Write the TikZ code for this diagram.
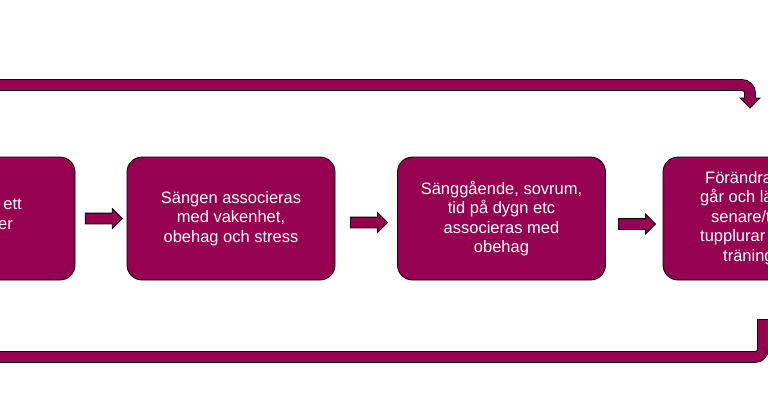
\documentclass[tikz,border=0pt]{standalone}
\usepackage{fontspec}
\setmainfont{Liberation Sans}
\usetikzlibrary{shapes.arrows,calc}
\definecolor{raspberry}{RGB}{150, 0, 80}

\begin{document}
\begin{tikzpicture}[x=1pt, y=-1pt,
        stage/.style={rectangle, rounded corners=15pt, draw=black, line width=0.8pt, fill=raspberry,
                      minimum width=208pt, minimum height=123pt, text=white, align=center,
                      font=\fontsize{16.5}{19.5}\selectfont},
        stagetext/.style={text=white, inner sep=0pt, font=\fontsize{16.5}{19.5}\selectfont},
        fatarrow/.style={single arrow, draw=black, line width=0.8pt, fill=raspberry, inner xsep=0pt,
                         inner ysep=5pt, minimum height=37pt, minimum width=19pt, single arrow head extend=4.5pt},
        loopedge/.style={line width=11.6pt, black, rounded corners=8pt},
        loopbody/.style={line width=10pt, raspberry, rounded corners=8pt},
        loophead/.style={draw=black, line width=0.8pt, fill=raspberry}]
            \clip                                                     (0.00, 0.00) rectangle (768.00, 416.00);
            \fill[white]                                              (0.00, 0.00) rectangle (768.00, 416.00);
            \node[stage] (s1) at (-29.00, 218.50) {};
            \node[stage] (s2) at (231.00, 218.50) {Sängen associeras\\med vakenhet,\\obehag och stress};
            \node[stage] (s3) at (501.50, 218.50) {Sänggående, sovrum,\\tid på dygn etc\\associeras med\\obehag};
            \node[stage] (s4) at (767.00, 218.50) {};
            \node[stagetext, align=right, anchor=east] (t1) at ( 22.00, 214.00) {ett\\er\hspace*{9pt}};
            \node[stagetext, align=left,  anchor=west] (t4) at (700.00, 218.00)
                 {\hspace*{5pt}Förändra\\går och lä\\\hspace*{11pt}senare/t\\tupplurar\\\hspace*{23pt}träning};
            \node[fatarrow] (a12) at ($(s1.east)!0.5!(s2.west)$) {};
            \node[fatarrow, yshift=-4pt]   (a23) at ($(s2.east)!0.5!(s3.west)$) {};
            \node[fatarrow, yshift=-5.5pt] (a34) at ($(s3.east)!0.5!(s4.west)$) {};
            \coordinate (feedin)   at (-20.00,  85.00);
            \coordinate (feedbend) at (750.00,  85.00);
            \coordinate (feedtip)  at (750.00,  98.00);
            \coordinate (backout)  at (763.00, 320.00);
            \coordinate (backbend) at (763.00, 357.00);
            \coordinate (backin)   at (-20.00, 357.00);
            \draw[loopedge] (feedin) -- (feedbend) -- (feedtip);
            \draw[loopedge] ($(backout)+(0,-0.8)$) -- (backbend) -- (backin);
            \filldraw[loophead] ($(feedtip)+(-10,0)$) -- ($(feedtip)+(10,0)$) -- ($(feedtip)+(0,10)$) -- cycle;
            \draw[loopbody] (feedin) -- (feedbend) -- ($(feedtip)+(0,1)$);
            \draw[loopbody] (backout) -- (backbend) -- (backin);
        \end{tikzpicture}
\end{document}
